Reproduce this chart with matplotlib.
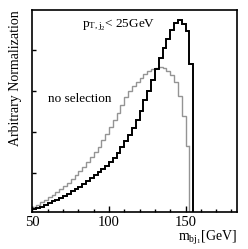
import numpy as np
import matplotlib
matplotlib.use("Agg")
import matplotlib.pyplot as plt

plt.rcParams['font.family'] = ['Liberation Serif', 'DejaVu Serif']
plt.rcParams['mathtext.fontset'] = 'stix'

bin_width = 2.5
x_start = 50.0

# pT,j2 < 25 GeV selection (black)
sel_values = [0.12, 0.15, 0.18, 0.22, 0.27, 0.31, 0.35, 0.40, 0.45, 0.50,
              0.55, 0.61, 0.67, 0.73, 0.80, 0.88, 0.95, 1.02, 1.10, 1.18,
              1.27, 1.38, 1.50, 1.63, 1.78, 1.93, 2.10, 2.30, 2.53, 2.78,
              3.02, 3.28, 3.55, 3.82, 4.05, 4.28, 4.50, 4.68, 4.74, 4.65,
              4.47, 3.68]
# no selection (grey)
nosel_values = [0.16, 0.22, 0.28, 0.34, 0.41, 0.47, 0.54, 0.61, 0.68, 0.76,
                0.85, 0.95, 1.05, 1.15, 1.27, 1.40, 1.52, 1.65, 1.80, 1.95,
                2.12, 2.30, 2.48, 2.67, 2.85, 3.00, 3.12, 3.24, 3.33, 3.42,
                3.49, 3.54, 3.57, 3.60, 3.58, 3.50, 3.40, 3.22, 2.88, 2.40,
                1.67]

x_ticks = [50, 100, 150]

def edges(n):
    return x_start + bin_width * np.arange(n + 1)

W, H = 248, 249
L, R, T, B = 31.7, 236.5, 10.0, 212.3
fig = plt.figure(figsize=(W/100, H/100), dpi=100)
ax = fig.add_axes([L/W, 1 - B/H, (R-L)/W, (B-T)/H])

e1 = edges(len(nosel_values))
ax.stairs(nosel_values, e1, color='#949494', lw=1.0, baseline=None)
ax.plot([e1[-1], e1[-1]], [nosel_values[-1], 0], color='#949494', lw=1.0)

e2 = edges(len(sel_values))
ax.stairs(sel_values, e2, color='black', lw=1.4, baseline=None)
ax.plot([e2[-1], e2[-1]], [sel_values[-1], 0], color='black', lw=1.4)

ax.set_xlim(49.5, 183.3)
ax.set_ylim(0.04, 4.99)
ax.set_xticks(x_ticks)
ax.set_xticklabels([str(t) for t in x_ticks], fontsize=10.5)
ax.set_xticks([t for t in range(60, 181, 10) if t not in x_ticks], minor=True)
ax.set_yticks([1, 2, 3, 4])
ax.set_yticklabels([])
ax.tick_params(axis='x', which='major', direction='in', length=4.5, width=1, pad=2.5)
ax.tick_params(axis='x', which='minor', direction='in', length=2.5, width=1)
ax.tick_params(axis='y', direction='in', length=3, width=1)
for s in ax.spines.values():
    s.set_linewidth(1.2)

fig.text(16/W, 1 - 10/H, 'Arbitrary Normalization', rotation=90, fontsize=10,
         ha='center', va='top')
ax.text(0.245, 0.925, r'$\mathregular{p_{T,j_2}}$< 25GeV', transform=ax.transAxes,
        fontsize=9.5, ha='left', va='center')
ax.text(0.08, 0.56, 'no selection', transform=ax.transAxes, fontsize=9.5,
        ha='left', va='center')
fig.text(R/W, 1 - 228.5/H, r'$\mathregular{m_{bj_1}}$[GeV]', fontsize=10,
         ha='right', va='top')

fig.savefig('out.png', dpi=100)
